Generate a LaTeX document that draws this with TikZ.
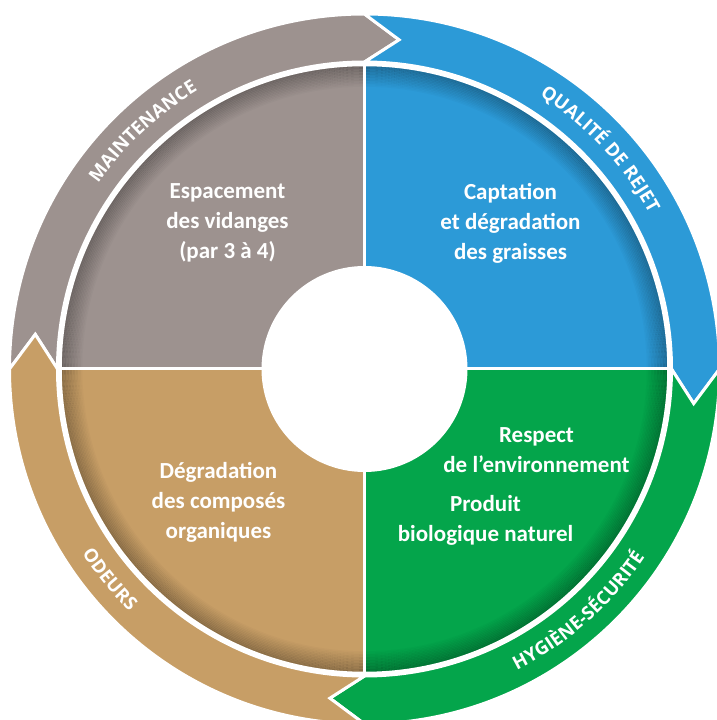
\documentclass[tikz,border=0pt]{standalone}
\usepackage{fontspec}
\setmainfont{Carlito}
\newfontfamily\ringfont{Open Sans}
\newcommand\ringstyle{\ringfont\bfseries\fontsize{18.5}{18.5}\selectfont}
\usetikzlibrary{decorations.text}
\definecolor{maintgray}{HTML}{9D928F}
\definecolor{rejetblue}{HTML}{2C9AD7}
\definecolor{hygiengreen}{HTML}{04A54B}
\definecolor{odeurtan}{HTML}{C79E66}

\begin{document}
\begin{tikzpicture}[x=1pt, y=1pt,
  ringarrow/.style={fill=#1, draw=white, line width=3pt, line join=miter},
  bigtext/.style={text=white, font=\bfseries\fontsize{23}{30}\selectfont, align=center},
  ringlabel/.style={decorate, decoration={text along path, text align=center,
      text color=white, text={|\ringstyle|#1}}}]
  \useasboundingbox (-364.5,-351) rectangle (352.5,369);
  \clip (-364.5,-351) rectangle (352.5,369);

  % outer ring, four curved arrows going clockwise
  \foreach \s/\col in {180/maintgray, 90/rejetblue, 0/hygiengreen, 270/odeurtan}
    \filldraw[ringarrow=\col] (\s:355) arc[start angle=\s, end angle=\s-90, radius=355]
      -- (\s-96:331) -- (\s-90:307) arc[start angle=\s-90, end angle=\s, radius=307]
      -- (\s-6:331) -- cycle;

  % inner disc
  \foreach \s/\col in {90/maintgray, 0/rejetblue, 270/hygiengreen, 180/odeurtan}
    \fill[\col] (0,0) -- (\s:304) arc[start angle=\s, end angle=\s+90, radius=304] -- cycle;
  \foreach \i [evaluate=\i as \op using 0.26*(1-\i/14)] in {0,...,13}
    \draw[black, opacity=\op, line width=1.6pt] (0,0) circle[radius=302.5-1.5*\i];
  \draw[white, line width=2.5pt] (0,0) circle[radius=304];
  \draw[white, line width=3pt] (0,304) -- (0,-304) (-304,0) -- (304,0);
  \node[circle, fill=white, minimum size=206pt, inner sep=0pt] (hole) at (0,0) {};

  \node[bigtext] (vidanges) at (-137,146) {Espacement\\des vidanges\\(par 3 à 4)};
  \node[bigtext] (graisses) at (146,146) {Captation\\et dégradation\\des graisses};
  \node[bigtext] (organiques) at (-146,-133) {Dégradation\\des composés\\organiques};
  \node[bigtext] (respect) at (172,-81) {Respect\\de l’environnement};
  \node[bigtext] (produit) at (121,-151) {Produit\\biologique naturel};

  % ring labels
  \path[ringlabel={MAINTENANCE}] (173:324.5) arc[start angle=173, end angle=93, radius=324.5];
  \path[ringlabel={QUALITÉ DE REJET}] (83:324.5) arc[start angle=83, end angle=3, radius=324.5];
  \path[ringlabel={HYGIÈNE-SÉCURITÉ}] (-88.5:337.5) arc[start angle=-88.5, end angle=-8.5, radius=337.5];
  \path[ringlabel={ODEURS}] (179.5:337.5) arc[start angle=179.5, end angle=259.5, radius=337.5];
\end{tikzpicture}
\end{document}
